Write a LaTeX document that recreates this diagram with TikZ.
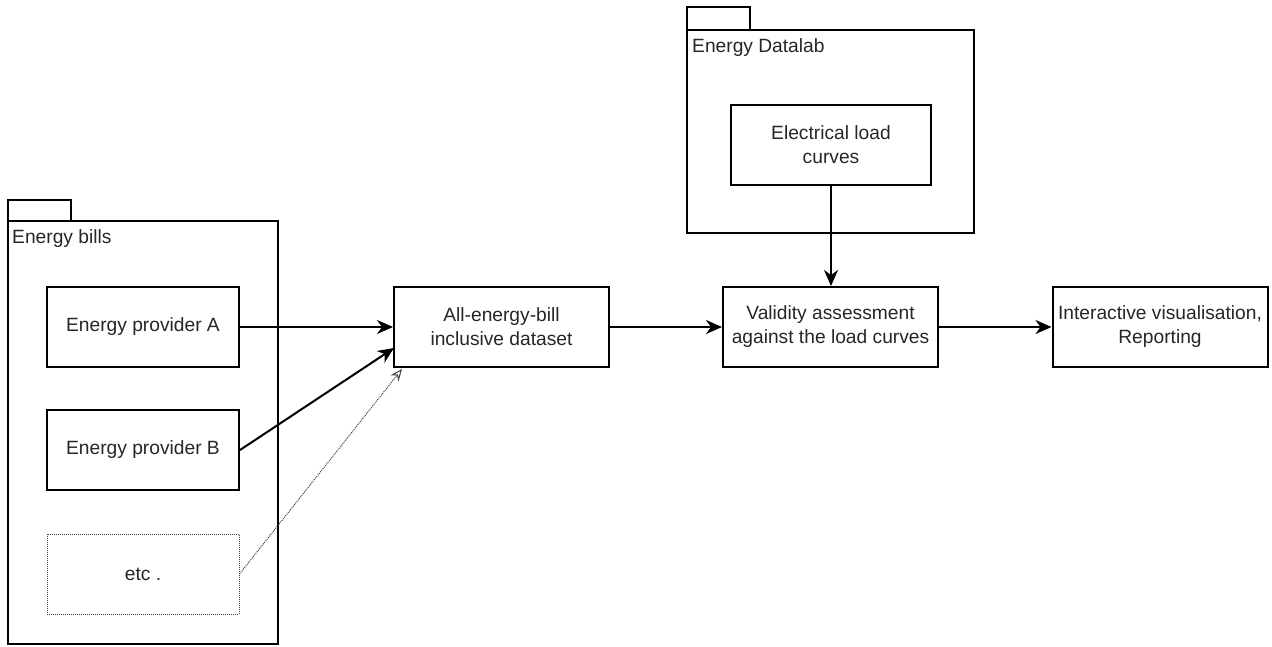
\documentclass[tikz,border=0pt]{standalone}
\usepackage{fontspec}
\setmainfont{Liberation Sans}
\usetikzlibrary{arrows.meta}
\begin{document}
\begin{tikzpicture}[x=1pt,y=-1pt,
  every node/.style={font=\fontsize{19.2}{24}\selectfont, text=black!85},
  box/.style={draw, line width=2pt, minimum width=192pt, minimum height=80pt, align=center, inner sep=0pt},
  widebox/.style={box, minimum width=215pt},
  dotbox/.style={draw=black!75, dash pattern=on 1pt off 1pt, line width=1pt, minimum width=192pt, minimum height=80pt, align=center, inner sep=0pt},
  pkg/.style={draw, line width=2pt},
  arr/.style={line width=2pt, -{Stealth[length=16pt, width=14pt, inset=5pt]}},
  darr/.style={draw=black!75, line width=1pt, dash pattern=on 1pt off 1pt, -{Stealth[length=12pt, width=10pt, inset=4pt, open, sep=0pt]}}]
\useasboundingbox (0,0) rectangle (1272,646);
% package frames with tabs
\draw[pkg] (8,200) rectangle (71,221);
\draw[pkg] (8,221) rectangle (278,644);
\node[anchor=north west, inner sep=0pt] (billslbl) at (12,229) {Energy bills};
\draw[pkg] (687,7) rectangle (750,30);
\draw[pkg] (687,30) rectangle (974,233);
\node[anchor=north west, inner sep=0pt] (lablbl) at (692,38) {Energy Datalab};
% boxes
\node[box] (provA) at (143,327) {Energy provider A};
\node[box] (provB) at (143,450) {Energy provider B};
\node[dotbox] (etc) at (143,574) {etc .};
\node[widebox] (data) at (501.5,327) {All-energy-bill\\inclusive dataset};
\node[widebox] (valid) at (830.5,327) {Validity assessment\\against the load curves};
\node[widebox] (vis) at (1160,327) {Interactive visualisation,\\Reporting};
\node[box, minimum width=200pt] (load) at (831,145) {Electrical load\\curves};
\coordinate (dataB) at (394,348);
\coordinate (dataE) at (402,369);
% connectors
\draw[arr] (provA.east) -- (data.west);
\draw[arr] (provB.east) -- (dataB);
\draw[darr] (etc.east) -- (dataE);
\draw[arr] (data.east) -- (valid.west);
\draw[arr] (valid.east) -- (vis.west);
\draw[arr] (load.south) -- (load.south |- valid.north);
\end{tikzpicture}
\end{document}
